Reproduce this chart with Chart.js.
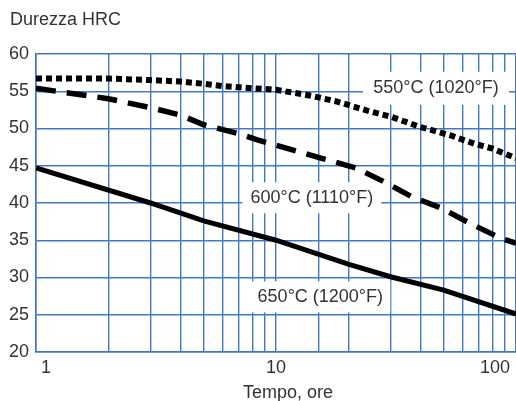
<!DOCTYPE html>
<html>
<head>
<meta charset="utf-8">
<script src="https://cdn.jsdelivr.net/npm/chart.js@4"></script>
<style>
  html, body { margin: 0; padding: 0; background: #fff; }
  #wrap { width: 516px; height: 401px; position: relative; }
</style>
</head>
<body>
<div id="wrap"><canvas id="chart"></canvas></div>
<script>
// dati (tempo in ore, durezza HRC)
const tempi550 = [1, 2, 3, 4, 5, 6, 8, 10, 14, 18, 24, 30, 40, 53, 68, 80, 100];
const durezza550 = [56.7, 56.7, 56.5, 56.3, 56.0, 55.7, 55.4, 55.2, 54.4, 53.6, 52.4, 51.6, 50.2, 49.1, 47.9, 47.3, 46.0];

const tempi600 = [1, 2, 3, 4, 5, 7, 8.3, 11.5, 15.5, 21.5, 28, 37, 49, 64, 86, 100];
const durezza600 = [55.4, 54.0, 52.8, 51.8, 50.5, 49.3, 48.5, 47.2, 46.0, 44.7, 42.9, 40.8, 39.3, 37.3, 35.3, 34.6];

const tempi650 = [1, 3, 5, 10, 20, 30, 50, 100];
const durezza650 = [44.7, 40.0, 37.6, 35.0, 31.8, 30.1, 28.3, 25.1];

const etichette = ['550°C (1020°F)', '600°C (1110°F)', '650°C (1200°F)'];
const xTickLabels = [1, 10, 100];
const yTicks = [20, 25, 30, 35, 40, 45, 50, 55, 60];

const GRID = '#3f78c6';
const TEXT = '#333';
const FONT = '"Liberation Sans", Arial, sans-serif';

const toPoints = (xs, ys) => xs.map((x, i) => ({ x: x, y: ys[i] }));

// etichette delle curve: posizione in coordinate dati
const labelPos = [
  { t: 46.4, v: 55.4, w: 146, h: 33 },
  { t: 14.1, v: 40.7, w: 139, h: 31 },
  { t: 15.3, v: 27.4, w: 140, h: 31 }
];

const extras = {
  id: 'extras',
  beforeDatasetsDraw(chart) {
    const ctx = chart.ctx;
    const xs = chart.scales.x, ys = chart.scales.y;
    ctx.save();
    ctx.font = '18px ' + FONT;
    ctx.textAlign = 'center';
    ctx.textBaseline = 'middle';
    labelPos.forEach((p, i) => {
      const cx = xs.getPixelForValue(p.t);
      const cy = ys.getPixelForValue(p.v);
      ctx.fillStyle = '#fff';
      ctx.fillRect(cx - p.w / 2, cy - p.h / 2, p.w, p.h);
      ctx.fillStyle = TEXT;
      ctx.fillText(etichette[i], cx, cy);
    });
    ctx.restore();
  },
  afterDraw(chart) {
    const ctx = chart.ctx;
    const xs = chart.scales.x;
    const area = chart.chartArea;
    ctx.save();
    ctx.font = '18px ' + FONT;
    ctx.fillStyle = TEXT;
    ctx.textBaseline = 'middle';
    ctx.textAlign = 'center';
    xTickLabels.forEach(v => {
      const s = String(v);
      const w = ctx.measureText(s).width;
      let px = xs.getPixelForValue(v);
      px = Math.max(px, area.left + w / 2 + 5);
      px = Math.min(px, area.right - w / 2 - 6);
      ctx.fillText(s, px, area.bottom + 16);
    });
    ctx.fillText('Tempo, ore', (area.left + area.right) / 2 + 12, area.bottom + 41);
    ctx.textAlign = 'left';
    ctx.fillText('Durezza HRC', 10, 20);
    ctx.restore();
  }
};

new Chart(document.getElementById('chart'), {
  type: 'line',
  data: {
    datasets: [
      {
        label: etichette[0],
        data: toPoints(tempi550, durezza550),
        borderColor: '#000',
        borderWidth: 6,
        borderDash: [6, 4],
        borderCapStyle: 'butt',
        pointRadius: 0,
        tension: 0
      },
      {
        label: etichette[1],
        data: toPoints(tempi600, durezza600),
        borderColor: '#000',
        borderWidth: 5.5,
        borderDash: [20, 11],
        borderCapStyle: 'butt',
        pointRadius: 0,
        tension: 0
      },
      {
        label: etichette[2],
        data: toPoints(tempi650, durezza650),
        borderColor: '#000',
        borderWidth: 5,
        pointRadius: 0,
        tension: 0
      }
    ]
  },
  options: {
    responsive: true,
    maintainAspectRatio: false,
    animation: false,
    layout: { padding: { top: 54, right: 0, left: 0, bottom: 0 } },
    plugins: { legend: { display: false }, tooltip: { enabled: false } },
    scales: {
      x: {
        type: 'logarithmic',
        min: 1,
        max: 100,
        ticks: { display: false },
        grid: { color: GRID, lineWidth: 1.4, drawTicks: false },
        border: { color: GRID, width: 1.6 },
        afterFit(scale) { scale.height = 49; scale.paddingLeft = 0; scale.paddingRight = 0; }
      },
      y: {
        min: 20,
        max: 60,
        afterBuildTicks(scale) { scale.ticks = yTicks.map(v => ({ value: v })); },
        ticks: { color: TEXT, font: { size: 18, family: FONT }, padding: 7 },
        grid: { color: GRID, lineWidth: 1.4, drawTicks: false },
        border: { color: GRID, width: 1.6 },
        afterFit(scale) { scale.width = 36; }
      }
    }
  },
  plugins: [extras]
});
</script>
</body>
</html>
